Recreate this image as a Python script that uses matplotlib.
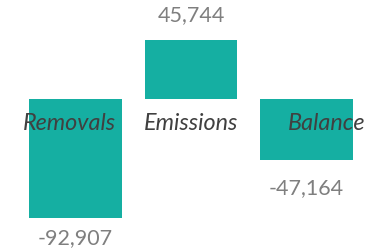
import matplotlib
matplotlib.use("Agg")
import matplotlib.pyplot as plt

# datos del grafico
categorias = ["Removals", "Emissions", "Balance"]
valores = [-92907, 45744, -47164]
etiquetas = ["-92,907", "45,744", "-47,164"]

plt.rcParams['font.family'] = ['Lato', 'DejaVu Sans']

fig = plt.figure(figsize=(3.7, 2.5), dpi=100)
ax = fig.add_axes([0, 0, 1, 1])
x = range(len(categorias))
ax.bar(x, valores, width=0.805, color='#15AFA2')

ax.set_xlim(-0.654, 2.55)
ax.set_ylim(-117500, 77000)
ax.axis('off')

# etiquetas de valor (desplazamiento en pixeles)
desplaza = [-20, 25, -28]
for i, (v, t) in enumerate(zip(valores, etiquetas)):
    ax.annotate(t, (i, v), xytext=(0, desplaza[i] * 0.72), textcoords='offset points',
                ha='center', va='center', fontsize=15.5, color='#7F7F7F')

# nombres de categoria sobre el cero
mover = [-6, 0, 20]
for i, c in enumerate(categorias):
    ax.annotate(c, (i, 0), xytext=(mover[i] * 0.72, -25 * 0.72), textcoords='offset points',
                ha='center', va='center', fontsize=16.8, color='#404040', style='italic')

fig.savefig("out.png", dpi=100)
